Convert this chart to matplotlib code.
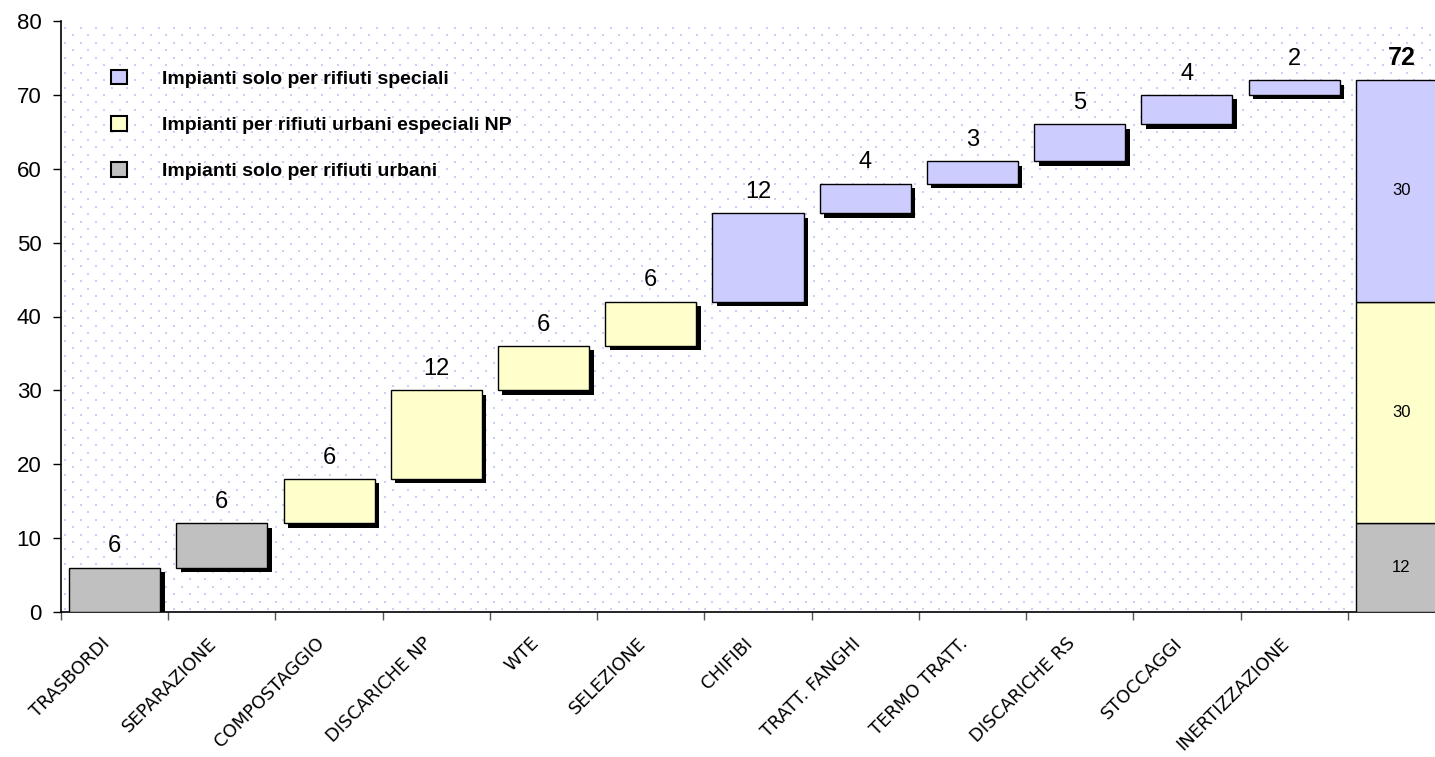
import matplotlib
matplotlib.use("Agg")
import numpy as np
import matplotlib.pyplot as plt
import matplotlib.patheffects as pe
import matplotlib.transforms as mtrans
from matplotlib.patches import Patch

plt.rcParams['font.family'] = ['Liberation Sans', 'DejaVu Sans']

categories = ["TRASBORDI", "SEPARAZIONE", "COMPOSTAGGIO", "DISCARICHE NP", "WTE",
              "SELEZIONE", "CHIFIBI", "TRATT. FANGHI", "TERMO TRATT.",
              "DISCARICHE RS", "STOCCAGGI", "INERTIZZAZIONE"]
values = [6, 6, 6, 12, 6, 6, 12, 4, 3, 5, 4, 2]
groups = ["urb", "urb", "np", "np", "np", "np", "sp", "sp", "sp", "sp", "sp", "sp"]

total_parts = [12, 30, 30]           # urbani, urbani+speciali NP, speciali
total_groups = ["urb", "np", "sp"]

colors = {"urb": "#C0C0C0", "np": "#FFFFCC", "sp": "#CCCCFF"}
legend_labels = [("sp", "Impianti solo per rifiuti speciali"),
                 ("np", "Impianti per rifiuti urbani especiali NP"),
                 ("urb", "Impianti solo per rifiuti urbani")]

fig = plt.figure(figsize=(14.35, 7.57), dpi=100)
ax = fig.add_axes([61 / 1435, 145 / 757, 1394 / 1435, 591 / 757])

# dotted background (Excel-like pattern fill), staggered grid in pixels
ax_w, ax_h = 1394, 591
dx, dy = 15.6, 7.45
px, py = [], []
for r, yy in enumerate(np.arange(3, ax_h, dy)):
    xs = np.arange(4 + (dx / 2 if r % 2 else 0), ax_w, dx)
    px.extend(xs / ax_w)
    py.extend([yy / ax_h] * len(xs))
ax.scatter(px, py, s=2.2, marker="s", color="#CDCDF5", linewidths=0,
           transform=ax.transAxes, zorder=0)

width = 0.85
bottom = 0
shadow = [pe.SimplePatchShadow(offset=(3.2, -3.2), shadow_rgbFace="black", alpha=1.0), pe.Normal()]
for i, (v, g) in enumerate(zip(values, groups)):
    bar = ax.bar(i, v, bottom=bottom, width=width, color=colors[g],
                 edgecolor="black", linewidth=1.0, zorder=3)
    bar[0].set_path_effects(shadow)
    ax.annotate(str(v), (i, bottom + v), xytext=(0, 11), textcoords="offset points",
                ha="center", va="baseline", fontsize=17, zorder=4)
    bottom += v

# total column
tb = 0
x_tot = len(values)
for v, g in zip(total_parts, total_groups):
    ax.bar(x_tot, v, bottom=tb, width=width, color=colors[g],
           edgecolor="black", linewidth=1.0, zorder=3)
    ax.text(x_tot, tb + v / 2, str(v), ha="center", va="center", fontsize=12, zorder=4)
    tb += v
ax.annotate(str(tb), (x_tot, tb), xytext=(0, 11), textcoords="offset points",
            ha="center", va="baseline", fontsize=18, fontweight="bold", zorder=4)

ax.set_xlim(-0.5, len(values) + 0.5)
ax.set_ylim(0, 80)
ax.set_yticks(range(0, 81, 10))
ax.tick_params(axis="y", labelsize=16, length=6, width=1, direction="out", pad=8)

ax.set_xticks(range(len(values)))
ax.set_xticklabels(categories, rotation=45, ha="right", rotation_mode="anchor",
                   fontsize=13, family="DejaVu Sans")
ax.tick_params(axis="x", which="major", length=0, pad=16)
ax.set_xticks([k + 0.5 for k in range(-1, len(values))], minor=True)
ax.tick_params(axis="x", which="minor", length=6, width=1, color="#555555")
shift = mtrans.ScaledTranslation(-0.14, 0, fig.dpi_scale_trans)
for lbl in ax.get_xticklabels():
    lbl.set_transform(lbl.get_transform() + shift)

for s in ["top", "right"]:
    ax.spines[s].set_visible(False)
ax.spines["left"].set_linewidth(1.2)
ax.spines["bottom"].set_linewidth(1.2)

handles = [Patch(facecolor=colors[g], edgecolor="black", linewidth=1.5, label=t)
           for g, t in legend_labels]
fig.legend(handles=handles, loc="upper left", bbox_to_anchor=(101 / 1435, 1 - 60 / 757),
           frameon=False, prop={"weight": "bold", "size": 14}, handlelength=0.85,
           handleheight=0.78, handletextpad=1.8, labelspacing=1.45, borderpad=0)

fig.savefig("out.png", dpi=100)
